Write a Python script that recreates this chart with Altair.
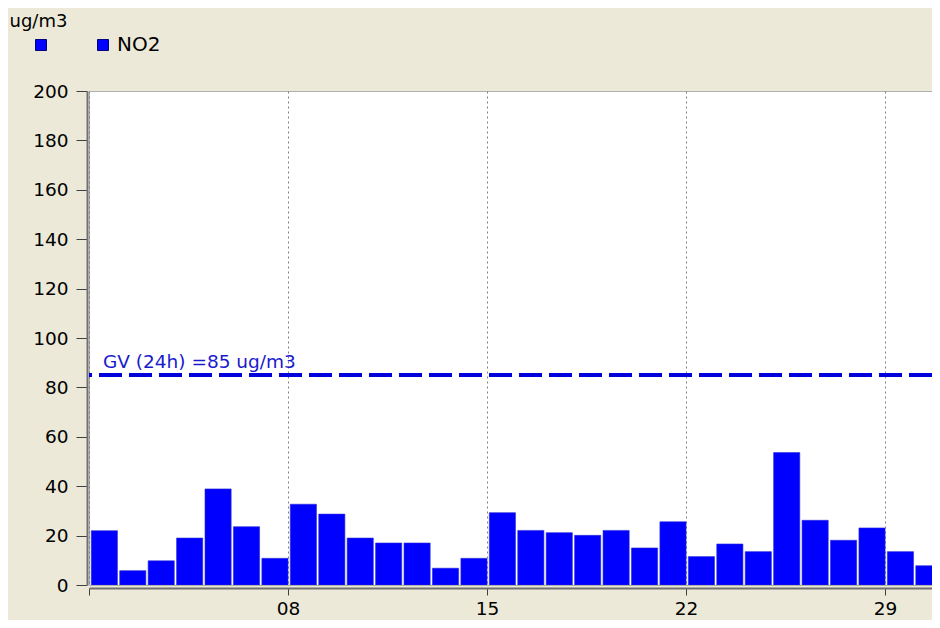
import altair as alt
import pandas as pd

days = list(range(1, 31))
no2 = [22.0, 5.8, 9.8, 19.0, 38.9, 23.6, 10.8, 32.7, 28.7, 19.0,
       17.0, 17.0, 6.8, 10.8, 29.3, 22.1, 21.2, 20.1, 22.1, 15.0,
       25.6, 11.5, 16.6, 13.5, 53.6, 26.2, 18.1, 23.1, 13.5, 7.8]
series = ["NO2"] * len(days)
legend_entries = [" ", "NO2"]
x_ticks = [1, 8, 15, 22, 29]
y_ticks = list(range(0, 201, 20))
limit_value = [85]
limit_label = ["GV (24h) =85 ug/m3"]
limit_label_day = [1.49]

df = pd.DataFrame({"day": days, "value": no2, "series": series})
lim_df = pd.DataFrame({"y": limit_value, "label": limit_label, "x": limit_label_day})

FONT = "DejaVu Sans"
BLUE = "#0000ff"

# visible window: day 1 .. ~30.65 (the right side of the month is cut off)
x_scale = alt.Scale(domain=[1, 30.65], nice=False, zero=False)
y_scale = alt.Scale(domain=[0, 200], nice=False)

bars = alt.Chart(df).transform_calculate(
    x0="datum.day + 0.08", x1="datum.day + 1"
).mark_bar(stroke="#2a2ad8", strokeWidth=0.6, clip=True).encode(
    x=alt.X("x0:Q", scale=x_scale,
            axis=alt.Axis(values=x_ticks, title=None, grid=True,
                          gridDash=[2, 3], gridColor="#808080", gridWidth=1,
                          labelExpr="datum.value == 1 ? '' : (datum.value < 10 ? '0' + datum.value : '' + datum.value)",
                          domainColor="#707070", domainWidth=2, tickColor="#404040",
                          tickSize=7, labelPadding=4, offset=3, labelFontSize=18.5,
                          labelColor="#000000", labelFont=FONT)),
    x2="x1:Q",
    y=alt.Y("value:Q", scale=y_scale,
            axis=alt.Axis(values=y_ticks, grid=False, title="ug/m3",
                          titleAngle=0, titleAlign="left", titleBaseline="alphabetic",
                          titleX=-78, titleY=-65, titleFontSize=18,
                          titleFontWeight="normal", titleFont=FONT, titleColor="#000000",
                          domainColor="#707070", domainWidth=2, tickColor="#404040",
                          tickSize=11, labelPadding=8, offset=2, labelFontSize=18.5,
                          labelColor="#000000", labelFont=FONT)),
    y2=alt.datum(0),
    color=alt.Color("series:N",
                    scale=alt.Scale(domain=legend_entries, range=[BLUE, BLUE]),
                    legend=alt.Legend(title=None, orient="none", direction="horizontal",
                                      legendX=-58, legendY=-56, symbolType="square",
                                      symbolSize=121, symbolStrokeColor="#000080",
                                      symbolStrokeWidth=1, labelFontSize=20,
                                      labelFont=FONT, labelColor="#000000",
                                      labelOffset=4, columnPadding=38, padding=0)),
)

rule = alt.Chart(lim_df).mark_rule(color="#0000dd", strokeWidth=4,
                                   strokeDash=[23, 7]).encode(
    y=alt.Y("y:Q", scale=y_scale)
)

label = alt.Chart(lim_df).mark_text(align="left", baseline="alphabetic", dy=-7,
                                    fontSize=18.5, font=FONT, color="#1a1acd").encode(
    x=alt.X("x:Q", scale=x_scale),
    y=alt.Y("y:Q", scale=y_scale),
    text="label:N",
)

chart = alt.layer(bars, rule, label).properties(
    width=843, height=494,
    background="#ece9d8",
    padding={"left": 81, "top": 83, "right": 0, "bottom": 35},
    autosize=alt.AutoSizeParams(type="none"),
).configure_view(fill="white", stroke="#b0b0b0", strokeWidth=1)

chart.save("out.html", embed_options={"renderer": "svg", "actions": False})
